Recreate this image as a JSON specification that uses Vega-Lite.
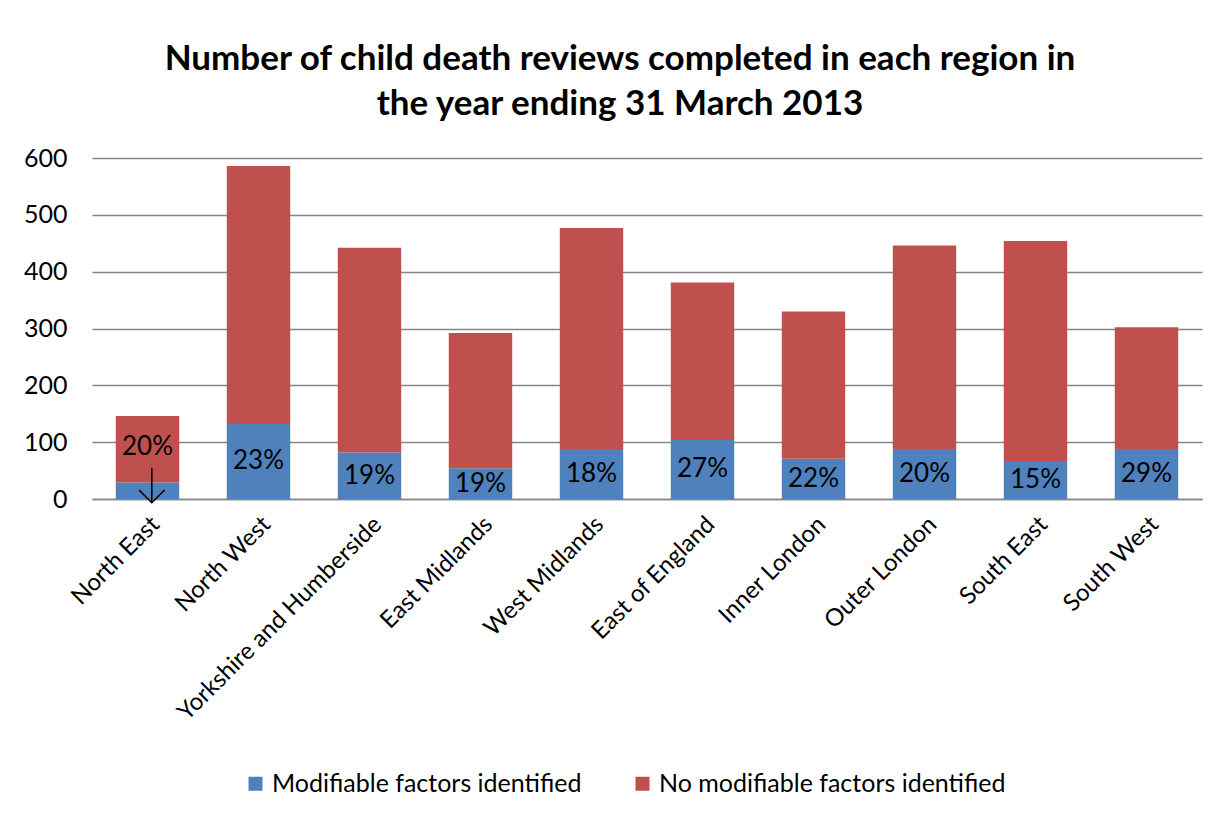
{
  "$schema": "https://vega.github.io/schema/vega-lite/v6.json",
  "width": 1110,
  "height": 341,
  "autosize": {"type": "none"},
  "padding": {"left": 92, "top": 158, "right": 17, "bottom": 315},
  "background": "white",
  "title": {
    "text": ["Number of child death reviews completed in each region in", "the year ending 31 March 2013"],
    "font": "Lato",
    "fontSize": 35,
    "fontWeight": "bold",
    "color": "#000000",
    "anchor": "middle",
    "frame": "group",
    "dx": -27,
    "lineHeight": 45,
    "offset": 24
  },
  "datasets": {
    "reviews": [
      {"region": "North East", "series": "Modifiable factors identified", "value": 29, "label": "20%"},
      {"region": "North East", "series": "No modifiable factors identified", "value": 117},
      {"region": "North West", "series": "Modifiable factors identified", "value": 132, "label": "23%"},
      {"region": "North West", "series": "No modifiable factors identified", "value": 454},
      {"region": "Yorkshire and Humberside", "series": "Modifiable factors identified", "value": 82, "label": "19%"},
      {"region": "Yorkshire and Humberside", "series": "No modifiable factors identified", "value": 360},
      {"region": "East Midlands", "series": "Modifiable factors identified", "value": 54, "label": "19%"},
      {"region": "East Midlands", "series": "No modifiable factors identified", "value": 238},
      {"region": "West Midlands", "series": "Modifiable factors identified", "value": 88, "label": "18%"},
      {"region": "West Midlands", "series": "No modifiable factors identified", "value": 389},
      {"region": "East of England", "series": "Modifiable factors identified", "value": 104, "label": "27%"},
      {"region": "East of England", "series": "No modifiable factors identified", "value": 277},
      {"region": "Inner London", "series": "Modifiable factors identified", "value": 71, "label": "22%"},
      {"region": "Inner London", "series": "No modifiable factors identified", "value": 259},
      {"region": "Outer London", "series": "Modifiable factors identified", "value": 88, "label": "20%"},
      {"region": "Outer London", "series": "No modifiable factors identified", "value": 358},
      {"region": "South East", "series": "Modifiable factors identified", "value": 67, "label": "15%"},
      {"region": "South East", "series": "No modifiable factors identified", "value": 387},
      {"region": "South West", "series": "Modifiable factors identified", "value": 88, "label": "29%"},
      {"region": "South West", "series": "No modifiable factors identified", "value": 214}
    ],
    "annotation": [
      {"region": "North East", "labelValue": 92, "label": "20%", "arrowTop": 55, "arrowTip": -6.5}
    ]
  },
  "config": {
    "view": {"stroke": null},
    "font": "Lato"
  },
  "encoding": {
    "x": {
      "field": "region",
      "type": "nominal",
      "sort": null,
      "scale": {
        "domain": ["North East", "North West", "Yorkshire and Humberside", "East Midlands", "West Midlands", "East of England", "Inner London", "Outer London", "South East", "South West"],
        "paddingInner": 0.4286,
        "paddingOuter": 0.2143
      },
      "axis": {
        "title": null,
        "labelAngle": -45,
        "labelFont": "Lato",
        "labelFontSize": 24,
        "labelColor": "#000000",
        "labelPadding": 13,
        "labelLimit": 500,
        "ticks": false,
        "domainColor": "#868686",
        "domainWidth": 1.3
      }
    }
  },
  "layer": [
    {
      "data": {"name": "reviews"},
      "mark": {"type": "bar"},
      "encoding": {
        "y": {
          "field": "value",
          "type": "quantitative",
          "stack": "zero",
          "scale": {"domain": [0, 600], "nice": false},
          "axis": {
            "title": null,
            "values": [0, 100, 200, 300, 400, 500, 600],
            "labelFont": "Lato",
            "labelFontSize": 25,
            "labelColor": "#000000",
            "labelPadding": 25,
            "ticks": false,
            "domain": false,
            "gridColor": "#868686",
            "gridWidth": 1.3,
            "gridOpacity": 1
          }
        },
        "color": {
          "field": "series",
          "type": "nominal",
          "scale": {
            "domain": ["Modifiable factors identified", "No modifiable factors identified"],
            "range": ["#4F81BD", "#C0504D"]
          },
          "legend": {
            "title": null,
            "orient": "none",
            "direction": "horizontal",
            "legendX": 151,
            "legendY": 613,
            "symbolType": "square",
            "symbolSize": 196,
            "symbolStrokeWidth": 0,
            "labelFont": "Lato",
            "labelFontSize": 25,
            "labelColor": "#000000",
            "labelOffset": 4,
            "columnPadding": 48,
            "labelLimit": 500
          }
        },
        "order": {"field": "series", "sort": "ascending"}
      }
    },
    {
      "data": {"name": "reviews"},
      "transform": [
        {"filter": "datum.series === 'Modifiable factors identified' && datum.region !== 'North East'"},
        {"calculate": "datum.value / 2", "as": "mid"}
      ],
      "mark": {"type": "text", "font": "Lato", "fontSize": 26, "color": "#000000", "baseline": "middle", "align": "center"},
      "encoding": {
        "y": {"field": "mid", "type": "quantitative"},
        "text": {"field": "label"}
      }
    },
    {
      "data": {"name": "annotation"},
      "mark": {"type": "text", "font": "Lato", "fontSize": 26, "color": "#000000", "baseline": "middle", "align": "center"},
      "encoding": {
        "y": {"field": "labelValue", "type": "quantitative"},
        "text": {"field": "label"}
      }
    },
    {
      "data": {"name": "annotation"},
      "mark": {"type": "rule", "color": "#000000", "strokeWidth": 1.6},
      "encoding": {
        "y": {"field": "arrowTop", "type": "quantitative"},
        "y2": {"field": "arrowTip"},
        "xOffset": {"value": 36}
      }
    },
    {
      "data": {"name": "annotation"},
      "mark": {"type": "point", "shape": "M-1,-1L0,0L1,-1", "filled": false, "stroke": "#000000", "strokeWidth": 1.6, "size": 650, "opacity": 1},
      "encoding": {
        "y": {"field": "arrowTip", "type": "quantitative"},
        "xOffset": {"value": 36}
      }
    }
  ]
}
